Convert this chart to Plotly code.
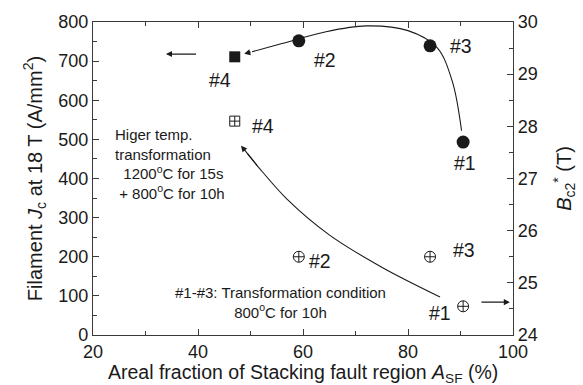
import plotly.graph_objects as go

# Filled symbols: filament Jc (left axis)
jc_samples = ["#1", "#2", "#3"]
jc_asf = [90.5, 59.2, 84.2]
jc_values = [493, 752, 739]
jc4_asf = [47.0]
jc4_value = [711]

# Open symbols: Bc2* (right axis)
bc_samples = ["#1", "#2", "#3"]
bc_asf = [90.5, 59.2, 84.2]
bc_values = [24.55, 25.5, 25.5]
bc4_asf = [47.0]
bc4_value = [28.1]

# Guide curves (hand-drawn trends)
jc_guide_x = [90.2, 88.4, 85.5, 80.0, 72.0, 64.0, 56.0, 50.3]
jc_guide_y = [522, 650, 735, 778, 790, 774, 745, 724]
bc_guide_x = [86.1, 75.0, 65.0, 57.0, 51.5, 49.4]
bc_guide_y = [24.73, 25.30, 25.92, 26.60, 27.22, 27.48]

FONT = "Liberation Sans, Arial, sans-serif"
INK = "#1a1a1a"
AXIS = "#3a3a3a"

fig = go.Figure()

fig.add_trace(go.Scatter(x=jc_guide_x, y=jc_guide_y, mode="lines",
                         line=dict(color=INK, width=1.1, shape="spline", smoothing=1.0),
                         hoverinfo="skip", showlegend=False))
fig.add_trace(go.Scatter(x=bc_guide_x, y=bc_guide_y, mode="lines", yaxis="y2",
                         line=dict(color=INK, width=1.1, shape="spline", smoothing=1.0),
                         hoverinfo="skip", showlegend=False))

fig.add_trace(go.Scatter(x=jc_asf, y=jc_values, mode="markers",
                         marker=dict(symbol="circle", size=13, color=INK),
                         showlegend=False))
fig.add_trace(go.Scatter(x=jc4_asf, y=jc4_value, mode="markers",
                         marker=dict(symbol="square", size=11, color=INK),
                         showlegend=False))
fig.add_trace(go.Scatter(x=bc_asf, y=bc_values, mode="markers", yaxis="y2",
                         marker=dict(symbol="circle-cross-open", size=11,
                                     color=INK, line=dict(width=1)),
                         showlegend=False))
fig.add_trace(go.Scatter(x=bc4_asf, y=bc4_value, mode="markers", yaxis="y2",
                         marker=dict(symbol="square-cross-open", size=10,
                                     color=INK, line=dict(width=1)),
                         showlegend=False))

ann = []

def label(x, y, text, yref="y", size=19.5, **kw):
    ann.append(dict(x=x, y=y, xref="x", yref=yref, text=text, showarrow=False,
                    font=dict(family=FONT, size=size, color=INK), **kw))

# sample labels, filled symbols
label(44.2, 652, "#4")
label(64.2, 703, "#2")
label(90.0, 739, "#3")
label(90.9, 440, "#1")
# sample labels, open symbols
label(52.4, 533, "#4")
label(63.2, 190, "#2")
label(90.6, 217, "#3")
label(86.1, 56, "#1")

# condition notes
label(23.8, 436, "Higer temp.<br>transformation<br>  1200<sup>o</sup>C for 15s<br> + 800<sup>o</sup>C for 10h",
      size=15, xanchor="left", yanchor="middle", align="left")
label(55.8, 82, "#1-#3: Transformation condition<br>800<sup>o</sup>C for 10h",
      size=15, align="center")

# x-axis title, set just below the tick labels
ann.append(dict(x=0.5, y=-0.122, xref="paper", yref="paper", showarrow=False,
                xanchor="center", yanchor="middle",
                text="Areal fraction of Stacking fault region <i>A</i><sub>SF</sub> (%)",
                font=dict(family=FONT, size=19.5, color=INK)))

# arrowheads at the ends of the guide curves
ann.append(dict(x=48.8, y=719, ax=jc_guide_x[-1], ay=jc_guide_y[-1],
                xref="x", yref="y", axref="x", ayref="y", showarrow=True, text="",
                arrowhead=2, arrowsize=1.1, arrowwidth=1.1, arrowcolor=INK))
ann.append(dict(x=48.2, y=27.63, ax=51.5, ay=27.22,
                xref="x", yref="y2", axref="x", ayref="y2", showarrow=True, text="",
                arrowhead=2, arrowsize=1.1, arrowwidth=1.1, arrowcolor=INK))
# axis pointers
ann.append(dict(x=33.9, y=718, ax=39.9, ay=718, xref="x", yref="y", axref="x", ayref="y",
                showarrow=True, text="", arrowhead=2, arrowsize=1.1, arrowwidth=1.1,
                arrowcolor=INK))
ann.append(dict(x=99.4, y=24.63, ax=93.7, ay=24.63, xref="x", yref="y2", axref="x", ayref="y2",
                showarrow=True, text="", arrowhead=2, arrowsize=1.1, arrowwidth=1.1,
                arrowcolor=INK))

tickfont = dict(family=FONT, size=18, color=INK)
titlefont = dict(family=FONT, size=20, color=INK)

fig.update_layout(
    width=583, height=385,
    margin=dict(l=93, r=70, t=22, b=50),
    paper_bgcolor="white", plot_bgcolor="white",
    font=dict(family=FONT, color=INK),
    annotations=ann,
    xaxis=dict(range=[20, 100], dtick=20, tick0=20, automargin=False,
               showline=True, linecolor=AXIS, linewidth=1.3, mirror="ticks",
               ticks="inside", ticklen=6, tickwidth=1, tickcolor=AXIS,
               minor=dict(ticks="inside", dtick=10, ticklen=4, tickcolor=AXIS),
               showgrid=False, zeroline=False, tickfont=tickfont),
    yaxis=dict(range=[0, 800], dtick=100, automargin=False,
               showline=True, linecolor=AXIS, linewidth=1.3,
               ticks="inside", ticklen=6, tickwidth=1, tickcolor=AXIS,
               minor=dict(ticks="inside", dtick=50, ticklen=4, tickcolor=AXIS),
               showgrid=False, zeroline=False, tickfont=tickfont,
               title=dict(text="Filament <i>J</i><sub>c</sub> at 18 T (A/mm<sup>2</sup>)",
                          font=titlefont, standoff=10)),
    yaxis2=dict(range=[24, 30], dtick=1, overlaying="y", side="right", automargin=False,
                showline=True, linecolor=AXIS, linewidth=1.3,
                ticks="inside", ticklen=6, tickwidth=1, tickcolor=AXIS,
                minor=dict(ticks="inside", dtick=0.5, ticklen=4, tickcolor=AXIS),
                showgrid=False, zeroline=False, tickfont=tickfont,
                title=dict(text="<i>B</i><sub>c2</sub><sup>*</sup> (T)",
                           font=titlefont, standoff=20)),
)

fig.write_html("out.html")
